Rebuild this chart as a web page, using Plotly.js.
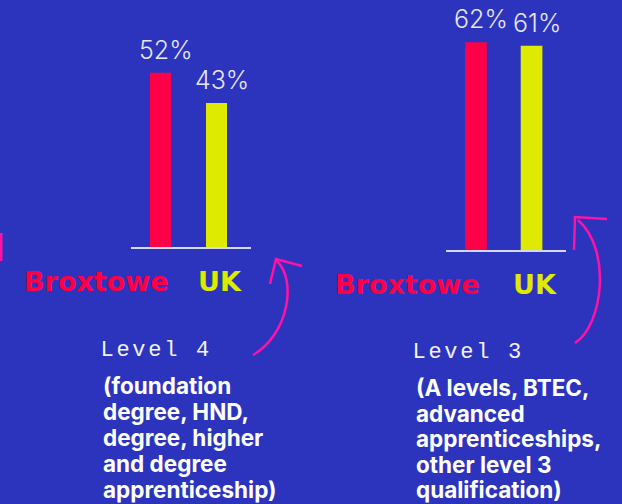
<!DOCTYPE html>
<html><head><meta charset="utf-8">
<script src="https://cdn.plot.ly/plotly-3.0.1.min.js"></script>
<style>
html,body{margin:0;padding:0;background:#2C34BE;overflow:hidden}
.annotation[data-index="0"] .annotation-text,
.annotation[data-index="1"] .annotation-text{letter-spacing:2.7px}
</style>
</head><body><div id="chart" style="width:622px;height:504px"></div>
<script>
// ---- data ----
const categories = ["Broxtowe", "UK"];
const level4Values = [52, 43];
const level3Values = [62, 61];
const level4Title = "Level 4";
const level4Desc = ["(foundation", "degree, HND,", "degree, higher", "and degree", "apprenticeship)"];
const level3Title = "Level 3";
const level3Desc = ["(A levels, BTEC,", "advanced", "apprenticeships,", "other level 3", "qualification)"];

// ---- style ----
const W = 622, H = 504;
const BG = "#2C34BE";
const barColors = ["#FF0048", "#DEEB00"];
const PINK = "#FF12A5";
const LABEL = "#E6E6F6";
const px = (x) => x / W;
const py = (y) => 1 - y / H;
const P = (x, y) => px(x).toFixed(5) + "," + py(y).toFixed(5);

const traces = [
  {type: "bar", x: categories, y: level4Values, xaxis: "x", yaxis: "y",
   marker: {color: barColors}, width: 0.375, hoverinfo: "skip"},
  {type: "bar", x: categories, y: level3Values, xaxis: "x2", yaxis: "y2",
   marker: {color: barColors}, width: 0.39, hoverinfo: "skip"}
];

const axX = (dom, rng) => ({domain: dom, range: rng, showgrid: false, zeroline: false,
  showticklabels: false, ticks: "", showline: true, linecolor: "#D6D8F2", linewidth: 1.5,
  fixedrange: true});
const axY = (dom, rng, anchor) => ({domain: dom, range: rng, visible: false, anchor: anchor, fixedrange: true});

const annotations = [];
// level titles (indices 0 and 1, letter-spaced via CSS)
annotations.push({xref: "paper", yref: "paper", x: px(108), y: py(350), xanchor: "left", yanchor: "middle",
  text: level4Title, showarrow: false, font: {family: "Liberation Mono", size: 22, color: "#F2F2FF"}});
annotations.push({xref: "paper", yref: "paper", x: px(420), y: py(352), xanchor: "left", yanchor: "middle",
  text: level3Title, showarrow: false, font: {family: "Liberation Mono", size: 22, color: "#F2F2FF"}});
// descriptions, one annotation per line
const descFont = {family: "Inter", size: 22.5, weight: 700, color: "#FFFFFF"};
level4Desc.forEach((t, i) => annotations.push({xref: "paper", yref: "paper", x: px(101), y: py(385 + i * 26.2),
  xanchor: "left", yanchor: "middle", align: "left", text: t, showarrow: false, font: descFont}));
level3Desc.forEach((t, i) => annotations.push({xref: "paper", yref: "paper", x: px(414), y: py(387.5 + i * 25.6),
  xanchor: "left", yanchor: "middle", align: "left", text: t, showarrow: false, font: descFont}));
// value labels
[[level4Values, "x", "y"], [level3Values, "x2", "y2"]].forEach(([vals, xr, yr]) => {
  vals.forEach((v, i) => annotations.push({xref: xr, yref: yr, x: categories[i], y: v,
    xanchor: "center", yanchor: "bottom", yshift: 6, xshift: 5, showarrow: false,
    text: v + "%", font: {family: "Inter", size: 25, weight: 300, color: LABEL}}));
});
// category labels
const catPos = [[[96, 281], [220, 281]], [[407, 284], [535, 284]]];
catPos.forEach(pair => pair.forEach((p, i) => annotations.push({xref: "paper", yref: "paper",
  x: px(p[0]), y: py(p[1]), xanchor: "center", yanchor: "middle", showarrow: false,
  text: "<b>" + categories[i] + "</b>",
  font: {family: "DejaVu Sans", size: 27, weight: 700, color: barColors[i]}})));

const line = {color: PINK, width: 2.5};
const shapes = [
  {type: "rect", xref: "paper", yref: "paper", x0: px(0), x1: px(2.5), y0: py(261), y1: py(233),
   fillcolor: PINK, line: {width: 0}},
  {type: "path", xref: "paper", yref: "paper", line: line,
   path: "M" + P(253, 355) + " C" + P(288, 335) + " " + P(298, 280) + " " + P(276, 260)},
  {type: "path", xref: "paper", yref: "paper", line: line,
   path: "M" + P(270, 284) + " L" + P(276, 259) + " L" + P(302, 266)},
  {type: "path", xref: "paper", yref: "paper", line: line,
   path: "M" + P(575, 343) + " C" + P(603, 325) + " " + P(612, 250) + " " + P(578, 220)},
  {type: "path", xref: "paper", yref: "paper", line: line,
   path: "M" + P(574, 250) + " L" + P(575, 217) + " L" + P(607, 219)}
];

const layout = {
  width: W, height: H, margin: {l: 0, r: 0, t: 0, b: 0},
  paper_bgcolor: BG, plot_bgcolor: "rgba(0,0,0,0)", showlegend: false,
  xaxis: axX([px(131), px(251)], [-0.527, 1.616]),
  yaxis: axY([py(247), py(46)], [0, 60], "x"),
  xaxis2: axX([px(446), px(566)], [-0.54, 1.62]),
  yaxis2: axY([py(250), py(15.5)], [0, 70], "x2"),
  annotations: annotations, shapes: shapes
};
layout.xaxis.anchor = "y";
layout.xaxis2.anchor = "y2";

Plotly.newPlot("chart", traces, layout, {displayModeBar: false, staticPlot: true});
</script></body></html>
